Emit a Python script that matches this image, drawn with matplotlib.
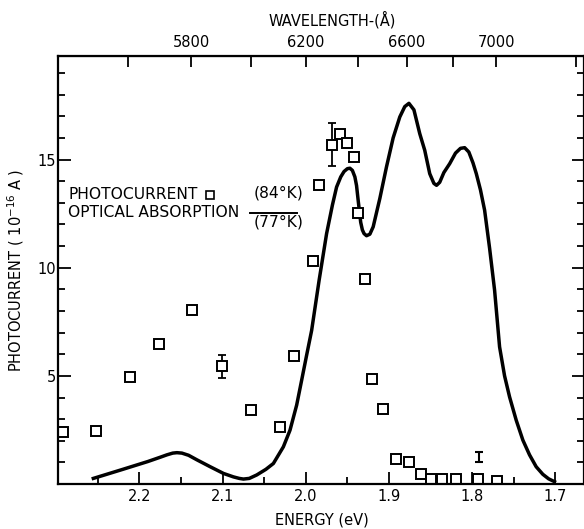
import numpy as np
import matplotlib.pyplot as plt
from matplotlib.ticker import FixedLocator, MultipleLocator, NullFormatter

# photocurrent points (84 K), energy in eV, current in 1e-16 A
pc_energy = [2.292, 2.252, 2.212, 2.177, 2.137, 2.101, 2.066, 2.031, 2.014,
             1.991, 1.984, 1.968, 1.959, 1.951, 1.942, 1.937, 1.929, 1.921,
             1.907, 1.892, 1.876, 1.862, 1.849, 1.836, 1.820, 1.793, 1.770]
pc_current = [2.39, 2.45, 4.96, 6.48, 8.03, 5.44, 3.43, 2.65, 5.93,
              10.33, 13.82, 15.69, 16.18, 15.78, 15.12, 12.55, 9.5, 4.84,
              3.45, 1.17, 1.02, 0.48, 0.22, 0.22, 0.23, 0.22, 0.15]
pc_err = [0, 0, 0, 0, 0, 0.54, 0, 0, 0,
          0, 0, 1.0, 0, 0, 0, 0, 0, 0,
          0, 0, 0, 0, 0, 0, 0, 0, 0]

# representative error bar drawn alone
rep_energy = [1.792]
rep_current = [1.26]
rep_err = [0.23]

# optical absorption curve (77 K)
abs_energy = [2.2555, 2.22, 2.19, 2.175, 2.167, 2.160, 2.155, 2.149, 2.141,
              2.131, 2.115, 2.099, 2.087, 2.080, 2.075, 2.068, 2.059, 2.048,
              2.039, 2.027, 2.019, 2.011, 2.005, 1.999, 1.993, 1.984, 1.975,
              1.968, 1.963, 1.958, 1.954, 1.950, 1.947, 1.944, 1.941, 1.939,
              1.937, 1.9355, 1.934, 1.932, 1.930, 1.927, 1.923, 1.919, 1.911,
              1.903, 1.895, 1.887, 1.881, 1.876, 1.870, 1.863, 1.857, 1.851,
              1.846, 1.8428, 1.839, 1.834, 1.827, 1.820, 1.814, 1.809, 1.804,
              1.799, 1.795, 1.790, 1.785, 1.779, 1.773, 1.767, 1.761, 1.755,
              1.747, 1.739, 1.731, 1.723, 1.715, 1.708, 1.701]
abs_value = [0.26, 0.68, 1.04, 1.24, 1.35, 1.43, 1.45, 1.43, 1.33,
             1.12, 0.80, 0.49, 0.33, 0.26, 0.23, 0.26, 0.42, 0.68,
             0.95, 1.72, 2.49, 3.65, 4.8, 5.96, 7.1, 9.42, 11.58,
             12.9, 13.73, 14.2, 14.45, 14.58, 14.6, 14.5, 14.2, 13.8,
             13.1, 12.6, 12.1, 11.75, 11.58, 11.48, 11.55, 11.89, 13.2,
             14.66, 16.0, 16.97, 17.45, 17.6, 17.3, 16.2, 15.43, 14.35,
             13.9, 13.81, 13.95, 14.4, 14.81, 15.3, 15.52, 15.55, 15.35,
             14.85, 14.35, 13.6, 12.66, 10.9, 8.96, 6.34, 5.0, 4.03,
             2.95, 2.03, 1.35, 0.8, 0.45, 0.24, 0.11]

# wavelength axis ticks (angstrom)
wl_major = [5800, 6200, 6600, 7000]
wl_minor = [5600, 6000, 6400, 6800, 7400]

plt.rcParams['font.family'] = 'DejaVu Sans'

fig = plt.figure(figsize=(5.84, 5.29), dpi=100)
ax = fig.add_axes([0.1, 0.085, 0.9007, 0.8096])

ax.plot(abs_energy, abs_value, color='black', lw=2.5, solid_joinstyle='round')
ax.plot(pc_energy, pc_current, ls='none', marker='s', ms=6.5, mfc='white',
        mec='black', mew=1.4)
for e, c, er in zip(pc_energy, pc_current, pc_err):
    if er > 0:
        ax.errorbar([e], [c], yerr=[er], fmt='none', ecolor='black',
                    elinewidth=1.3, capsize=3, capthick=1.3, zorder=1)
ax.errorbar(rep_energy, rep_current, yerr=rep_err, fmt='none', ecolor='black',
            elinewidth=1.5, capsize=3, capthick=1.5)

ax.set_xlim(2.2975, 1.665)
ax.set_ylim(0, 19.8)

ax.xaxis.set_minor_locator(MultipleLocator(0.05))
ax.set_xticks([2.2, 2.1, 2.0, 1.9, 1.8, 1.7])
ax.set_xticklabels(['2.2', '2.1', '2.0', '1.9', '1.8', '1.7'])
ax.set_yticks([5, 10, 15])
ax.yaxis.set_minor_locator(MultipleLocator(1))

ax.tick_params(which='both', direction='in', top=False, right=True,
               labelsize=10.5, width=1.3)
ax.tick_params(which='major', length=9)
ax.tick_params(which='minor', length=5)
ax.tick_params(axis='y', which='major', pad=2)

for s in ax.spines.values():
    s.set_linewidth(1.6)

ax.set_xlabel('ENERGY (eV)', fontsize=10.5, labelpad=6)
ax.set_ylabel('PHOTOCURRENT ( 10$^{-16}$ A )', fontsize=10.5, labelpad=8)

top = ax.secondary_xaxis('top', functions=(lambda e: 12398.0 / e,
                                           lambda w: 12398.0 / w))
top.xaxis.set_major_locator(FixedLocator(wl_major))
top.xaxis.set_minor_locator(FixedLocator(wl_minor))
top.xaxis.set_minor_formatter(NullFormatter())
top.tick_params(which='both', direction='in', length=8, width=1.3,
                labelsize=10.5, pad=4)
fig.text(0.5685, 0.962, 'WAVELENGTH-(Å)', fontsize=10.5,
         ha='center', va='center')

# legend lettering
ax.text(0.019, 0.675, 'PHOTOCURRENT', transform=ax.transAxes,
        fontsize=11.2, va='center', ha='left')
ax.plot([0.288], [0.675], transform=ax.transAxes, marker='s', ms=6,
        mfc='white', mec='black', mew=1.2, clip_on=False)
ax.text(0.019, 0.633, 'OPTICAL ABSORPTION', transform=ax.transAxes,
        fontsize=11.2, va='center', ha='left')
ax.plot([0.364, 0.454], [0.634, 0.634], transform=ax.transAxes,
        color='black', lw=1.4)
ax.text(0.419, 0.679, '(84°K)', transform=ax.transAxes, fontsize=11.2,
        va='center', ha='center')
ax.text(0.419, 0.612, '(77°K)', transform=ax.transAxes, fontsize=11.2,
        va='center', ha='center')

fig.savefig('out.png', dpi=100)
